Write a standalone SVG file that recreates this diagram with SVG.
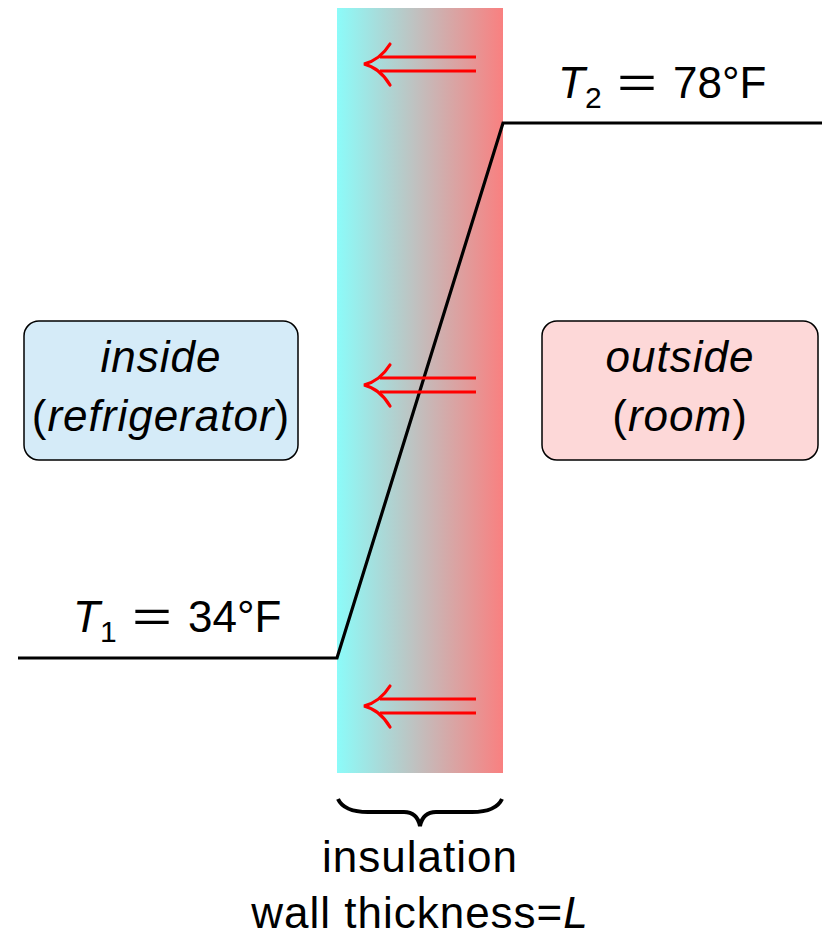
<svg xmlns="http://www.w3.org/2000/svg" width="822" height="937" viewBox="0 0 822 937">
<defs>
<linearGradient id="wallGrad" x1="0" y1="0" x2="1" y2="0">
<stop offset="0" stop-color="#8cfbf9"/>
<stop offset="1" stop-color="#f98080"/>
</linearGradient>
<g id="heatArrow">
<path d="M380,-7 L476,-7 M380,7 L476,7" fill="none" stroke="#ff0000" stroke-width="3.2"/>
<path d="M390,-20 Q380,-4 364,0 Q380,4 390,21" fill="none" stroke="#ff0000" stroke-width="3.2" stroke-linecap="round"/>
</g>
</defs>
<style>
text { font-family: "Liberation Sans", "DejaVu Sans", sans-serif; font-size: 44px; fill: #000; }
.it { font-style: italic; }
.sub { font-size: 30px; }
.lbl { letter-spacing: 1px; }
.box { stroke: #000; stroke-width: 1.5; }
.temp { fill: none; stroke: #000; stroke-width: 3.2; }
</style>
<rect x="0" y="0" width="822" height="937" fill="#ffffff"/>
<g id="wall">
<rect x="337" y="8" width="166" height="765" fill="url(#wallGrad)"/>
</g>
<g id="connectors">
<path class="temp" d="M18,658 L337,658 L503,123 L822,123"/>
<use href="#heatArrow" transform="translate(0,64)"/>
<use href="#heatArrow" transform="translate(0,385)"/>
<use href="#heatArrow" transform="translate(0,706)"/>
<path d="M338,799 Q344,812 368,812 L404,812 Q417,812 420,826 Q423,812 436,812 L472,812 Q496,812 502,799" fill="none" stroke="#000" stroke-width="4"/>
</g>
<g id="inside">
<rect class="box" x="24" y="321" width="274" height="139" rx="15" fill="#d5ebf8"/>
<text x="161" y="372" text-anchor="middle" class="it lbl">inside</text>
<text x="161" y="431" text-anchor="middle" class="lbl">(<tspan class="it">refrigerator</tspan>)</text>
</g>
<g id="outside">
<rect class="box" x="542" y="321" width="276" height="139" rx="15" fill="#fdd8d8"/>
<text x="680" y="372" text-anchor="middle" class="it lbl">outside</text>
<text x="680" y="431" text-anchor="middle" class="lbl">(<tspan class="it">room</tspan>)</text>
</g>
<g id="t2label">
<text x="558" y="98" class="it">T</text>
<text x="585" y="108" class="sub">2</text>
<text x="617" y="98" textLength="40" lengthAdjust="spacingAndGlyphs">=</text>
<text x="673" y="98">78°F</text>
</g>
<g id="t1label">
<text x="73" y="632" class="it">T</text>
<text x="100" y="642" class="sub">1</text>
<text x="132" y="632" textLength="40" lengthAdjust="spacingAndGlyphs">=</text>
<text x="188" y="632">34°F</text>
</g>
<g id="insulation">
<text x="420" y="872" text-anchor="middle" class="lbl">insulation</text>
<text x="420" y="928" text-anchor="middle" class="lbl">wall thickness=<tspan class="it">L</tspan></text>
</g>
</svg>
